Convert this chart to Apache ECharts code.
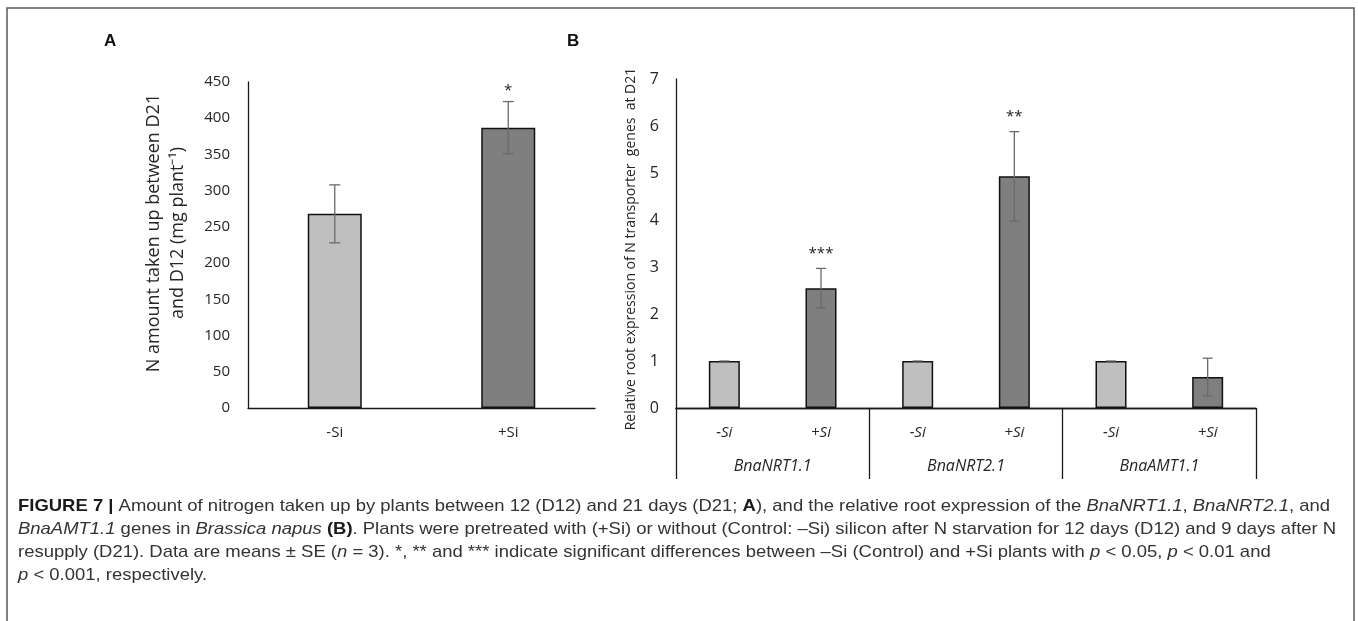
<!DOCTYPE html>
<html><head><meta charset="utf-8">
<script src="https://cdn.jsdelivr.net/npm/echarts@6/dist/echarts.min.js"></script>
<style>html,body{margin:0;padding:0;background:#fff}#c{width:1358px;height:621px}</style>
</head><body><div id="c"></div>
<script>
// ---- Panel A data ----
const catsA = ['-Si', '+Si'];
const meanA = [268, 387];
const seA = [40, 36];
const sigA = ['', '*'];
const yMinA = 0, yMaxA = 450, yStepA = 50;

// ---- Panel B data ----
const catsB = ['-Si', '+Si', '-Si', '+Si', '-Si', '+Si'];
const genesB = ['BnaNRT1.1', 'BnaNRT2.1', 'BnaAMT1.1'];
const meanB = [1, 2.55, 1, 4.93, 1, 0.66];
const seB = [0, 0.42, 0, 0.95, 0, 0.40];
const sigB = ['', '***', '', '**', '', ''];
const yMinB = 0, yMaxB = 7, yStepB = 1;

// ---- Texts ----
const titleA = 'N amount taken up between D21\nand D12 (mg plant\u207B\u00B9)';
const titleB = 'Relative root expression of N transporter  genes  at D21';
const captionLines = [
  [['b','FIGURE 7 |'],['n',' Amount of nitrogen taken up by plants between 12 (D12) and 21 days (D21; '],['b','A'],['n','), and the relative root expression of the '],['i','BnaNRT1.1'],['n',', '],['i','BnaNRT2.1'],['n',', and']],
  [['i','BnaAMT1.1'],['n',' genes in '],['i','Brassica napus'],['n',' '],['b','(B)'],['n','. Plants were pretreated with (+Si) or without (Control: \u2013Si) silicon after N starvation for 12 days (D12) and 9 days after N']],
  [['n','resupply (D21). Data are means \u00B1 SE ('],['i','n'],['n',' = 3). *, ** and *** indicate significant differences between \u2013Si (Control) and +Si plants with '],['i','p'],['n',' < 0.05, '],['i','p'],['n',' < 0.01 and']],
  [['i','p'],['n',' < 0.001, respectively.']]
];

const barColors = ['#bfbfbf', '#7f7f7f'];
const FONT = '"Open Sans", sans-serif';
const CAPFONT = '"Liberation Sans", Arial, sans-serif';
const CAPSIZE = 17;

function capFont(k){
  return (k==='b' ? 'bold ' : k==='i' ? 'italic ' : '') + CAPSIZE + 'px ' + CAPFONT;
}
const mctx = document.createElement('canvas').getContext('2d');
function measureLine(segs){
  let w = 0;
  segs.forEach(s => { mctx.font = capFont(s[0]); w += mctx.measureText(s[1]).width; });
  return w;
}
const capScale = 1312 / measureLine(captionLines[0]);
const rich = {
  n: {fontFamily: CAPFONT, fontSize: CAPSIZE, fill: '#333'},
  b: {fontFamily: CAPFONT, fontSize: CAPSIZE, fontWeight: 'bold', fill: '#1a1a1a'},
  i: {fontFamily: CAPFONT, fontSize: CAPSIZE, fontStyle: 'italic', fill: '#333'}
};
const capY = [506, 529, 552, 575];
const captionGraphics = captionLines.map((segs, li) => ({
  type: 'text', x: 18, y: capY[li], scaleX: capScale,
  style: {
    text: segs.map(s => '{' + s[0] + '|' + s[1] + '}').join(''),
    rich: rich, verticalAlign: 'middle', align: 'left'
  }
}));

function errRender(sig, capHalf, starGap){
  return function(params, api){
    const i = api.value(0), m = api.value(1), e = api.value(2);
    const top = api.coord([i, m + e]), bot = api.coord([i, m - e]);
    const x = top[0];
    const st = {stroke: '#6a6a6a', lineWidth: 1.3};
    const ch = [];
    if (e > 0) ch.push({type: 'line', shape: {x1: x, y1: top[1], x2: x, y2: bot[1]}, style: st});
    ch.push({type: 'line', shape: {x1: x - capHalf, y1: top[1], x2: x + capHalf, y2: top[1]}, style: st});
    if (e > 0) ch.push({type: 'line', shape: {x1: x - capHalf, y1: bot[1], x2: x + capHalf, y2: bot[1]}, style: st});
    const s = sig[params.dataIndex];
    if (s) ch.push({type: 'text', style: {text: s, x: x, y: top[1] - starGap, align: 'center', verticalAlign: 'middle', font: '15px ' + FONT, fill: '#222'}});
    return {type: 'group', children: ch};
  };
}

const axisLineStyle = {lineStyle: {color: '#1a1a1a', width: 1.3}};
const chart = echarts.init(document.getElementById('c'));
chart.setOption({
  animation: false,
  backgroundColor: '#fff',
  grid: [
    {left: 248, top: 82, width: 347, height: 326},
    {left: 676, top: 79, width: 580, height: 329}
  ],
  xAxis: [
    {gridIndex: 0, type: 'category', data: catsA, axisLine: axisLineStyle, axisTick: {show: false},
     axisLabel: {margin: 17, color: '#262626', fontFamily: FONT, fontSize: 15}},
    {gridIndex: 1, type: 'category', data: catsB, axisLine: axisLineStyle, axisTick: {show: false},
     axisLabel: {margin: 17, color: '#262626', fontFamily: FONT, fontSize: 15, fontStyle: 'italic', interval: 0}},
    {gridIndex: 1, type: 'category', data: genesB, position: 'bottom', axisLine: axisLineStyle,
     axisTick: {show: true, length: 71, lineStyle: {color: '#1a1a1a', width: 1.3}},
     axisLabel: {margin: 50, color: '#262626', fontFamily: FONT, fontSize: 16, fontStyle: 'italic', interval: 0}}
  ],
  yAxis: [
    {gridIndex: 0, type: 'value', min: yMinA, max: yMaxA, interval: yStepA,
     axisLine: {show: true, lineStyle: {color: '#1a1a1a', width: 1.3}}, axisTick: {show: false}, splitLine: {show: false},
     axisLabel: {margin: 18, color: '#262626', fontFamily: FONT, fontSize: 15}},
    {gridIndex: 1, type: 'value', min: yMinB, max: yMaxB, interval: yStepB,
     axisLine: {show: true, lineStyle: {color: '#1a1a1a', width: 1.3}}, axisTick: {show: false}, splitLine: {show: false},
     axisLabel: {margin: 17, color: '#262626', fontFamily: FONT, fontSize: 16}}
  ],
  series: [
    {type: 'bar', xAxisIndex: 0, yAxisIndex: 0, barWidth: 54,
     data: meanA.map((v, i) => ({value: v, itemStyle: {color: barColors[i % 2]}})),
     itemStyle: {borderColor: '#111', borderWidth: 1.5}},
    {type: 'custom', xAxisIndex: 0, yAxisIndex: 0, z: 5, renderItem: errRender(sigA, 5.5, 11),
     data: meanA.map((m, i) => [i, m, seA[i]])},
    {type: 'bar', xAxisIndex: 1, yAxisIndex: 1, barWidth: 31,
     data: meanB.map((v, i) => ({value: v, itemStyle: {color: barColors[i % 2]}})),
     itemStyle: {borderColor: '#111', borderWidth: 1.5}},
    {type: 'custom', xAxisIndex: 1, yAxisIndex: 1, z: 5, renderItem: errRender(sigB, 5, 15),
     data: meanB.map((m, i) => [i, m, seB[i]])}
  ],
  graphic: [
    {type: 'rect', shape: {x: 7, y: 8, width: 1347, height: 660}, style: {fill: 'none', stroke: '#5a5a5a', lineWidth: 1.5}, silent: true},
    {type: 'text', x: 104, y: 41, style: {text: 'A', font: 'bold 17px ' + CAPFONT, fill: '#111', verticalAlign: 'middle'}},
    {type: 'text', x: 567, y: 41, style: {text: 'B', font: 'bold 17px ' + CAPFONT, fill: '#111', verticalAlign: 'middle'}},
    {type: 'text', x: 166, y: 233, rotation: Math.PI / 2,
     style: {text: titleA, font: '18px ' + FONT, lineHeight: 24, fill: '#262626', align: 'center', verticalAlign: 'middle'}},
    {type: 'text', x: 631, y: 249, rotation: Math.PI / 2,
     style: {text: titleB, font: '14px ' + FONT, fill: '#262626', align: 'center', verticalAlign: 'middle'}}
  ].concat(captionGraphics)
});
</script></body></html>
